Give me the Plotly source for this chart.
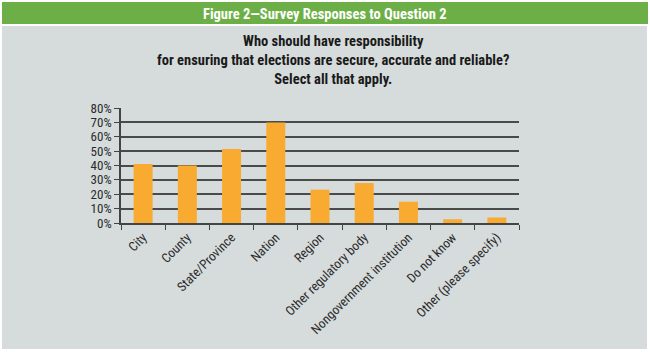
import plotly.graph_objects as go

categories = ["City", "County", "State/Province", "Nation", "Region",
              "Other regulatory body", "Nongovernment institution",
              "Do not know", "Other (please specify)"]
values = [41, 40, 51.5, 70, 23.2, 27.8, 14.8, 2.6, 3.8]
y_ticks = [0, 10, 20, 30, 40, 50, 60, 70, 80]
y_tick_labels = [f"{v}%" for v in y_ticks]

header = "Figure 2\u2014Survey Responses to Question 2"
title = ("Who should have responsibility<br>"
         "for ensuring that elections are secure, accurate and reliable?<br>"
         "Select all that apply.")

FONT = "Liberation Sans Narrow, Roboto Condensed, Roboto, Arial"
W, H = 650, 352
L, R, T, B = 121, 131, 108, 129
PW, PH = W - L - R, H - T - B


def px(x):
    return (x - L) / PW


def py(y):
    return (H - B - y) / PH


fig = go.Figure(go.Bar(x=categories, y=values, marker_color="#F9AA30",
                       marker_line_width=0, width=0.43))

fig.update_layout(
    width=W, height=H,
    margin=dict(l=L, r=R, t=T, b=B),
    paper_bgcolor="white", plot_bgcolor="rgba(0,0,0,0)",
    showlegend=False,
    font=dict(family=FONT, color="#2b2b2b"),
    shapes=[
        dict(type="rect", xref="paper", yref="paper", layer="below",
             x0=px(2), x1=px(647), y0=py(349), y1=py(26),
             fillcolor="#D6DCDC", line_width=0),
        dict(type="rect", xref="paper", yref="paper", layer="below",
             x0=px(2), x1=px(648), y0=py(24), y1=py(2),
             fillcolor="#6CAF46", line_width=0),
    ],
    annotations=[
        dict(text=f"<b>{header}</b>", xref="paper", yref="paper",
             x=px(325), y=py(14), showarrow=False,
             xanchor="center", yanchor="middle",
             font=dict(family=FONT, size=14.5, color="white")),
        dict(text=f"<b>{title}</b>", xref="paper", yref="paper",
             x=px(333), y=py(61), showarrow=False,
             xanchor="center", yanchor="middle", align="center",
             font=dict(family=FONT, size=14.5, color="#1a1a1a")),
    ],
)

fig.update_xaxes(
    showgrid=False, showline=True, linecolor="#444", linewidth=1.5,
    ticks="outside", tickson="boundaries", ticklen=5, tickcolor="#444",
    tickangle=-45, tickfont=dict(family=FONT, size=13, color="#2b2b2b"),
    fixedrange=True,
)
fig.update_yaxes(
    range=[0, 80], tickvals=y_ticks, ticktext=y_tick_labels,
    showgrid=True, gridcolor="#4a4a4a", gridwidth=1.8,
    showline=True, linecolor="#444", linewidth=1.5,
    ticks="outside", ticklen=5, tickcolor="#444",
    tickfont=dict(family=FONT, size=13, color="#2b2b2b"),
    zeroline=False, fixedrange=True,
)

fig.write_html("out.html")
